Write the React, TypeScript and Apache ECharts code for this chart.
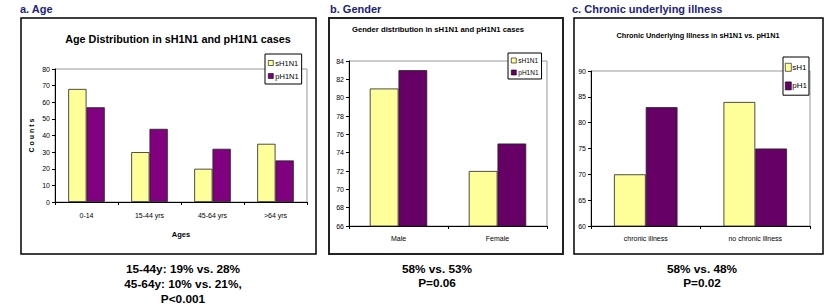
import React, { useEffect, useRef } from "react";
import * as echarts from "echarts";

const ageCategories = ["0-14", "15-44 yrs", "45-64 yrs", ">64 yrs"];
const ageS = [68, 30, 20, 35];
const ageP = [57, 44, 32, 25];
const ageTicks = { min: 0, max: 80, interval: 10 };

const genderCategories = ["Male", "Female"];
const genderS = [81, 72];
const genderP = [83, 75];
const genderTicks = { min: 66, max: 84, interval: 2 };

const chronicCategories = ["chronic illness", "no chronic illness"];
const chronicS = [70, 84];
const chronicP = [83, 75];
const chronicTicks = { min: 60, max: 90, interval: 5 };

const YELLOW = "#FFFF99";
const PURPLE_A = "#800080";
const PURPLE_B = "#660066";
const NAVY = "#1C2478";
const ARIAL = "'Liberation Sans', Arial, sans-serif";
const NARROW = "'Liberation Sans Narrow', 'Liberation Sans', Arial, sans-serif";

export default function App() {
  const ref = useRef<HTMLDivElement>(null);
  useEffect(() => {
    const chart = echarts.init(ref.current!, null, { renderer: "svg" });

    const grids = [
      { left: 55, top: 69, width: 252, height: 133 },
      { left: 349, top: 61, width: 198, height: 165 },
      { left: 591, top: 71, width: 219, height: 155 },
    ].map((g) => ({ ...g, show: true, borderColor: "#999", borderWidth: 1, containLabel: false }));

    const fonts = [ARIAL, ARIAL, NARROW];
    const cats = [ageCategories, genderCategories, chronicCategories];
    const ticks = [ageTicks, genderTicks, chronicTicks];

    const xAxis = cats.map((c, i) => ({
      type: "category",
      gridIndex: i,
      data: c,
      axisLine: { lineStyle: { color: "#000", width: 1 } },
      axisTick: { show: true, length: 3, lineStyle: { color: "#000" } },
      axisLabel: { fontSize: 7, color: "#000", fontFamily: fonts[i], margin: i === 0 ? 10 : 9 },
      name: i === 0 ? "Ages" : "",
      nameLocation: "middle",
      nameGap: 28,
      nameTextStyle: { fontSize: 7.5, fontWeight: "bold", color: "#000", fontFamily: ARIAL },
    }));

    const yAxis = ticks.map((t, i) => ({
      type: "value",
      gridIndex: i,
      min: t.min,
      max: t.max,
      interval: t.interval,
      axisLine: { show: true, lineStyle: { color: "#000", width: 1 } },
      axisTick: { show: true, length: 3, lineStyle: { color: "#000" } },
      splitLine: { show: false },
      axisLabel: { fontSize: 7, color: "#000", fontFamily: fonts[i], margin: 5 },
      name: i === 0 ? "C o u n t s" : "",
      nameLocation: "middle",
      nameGap: 20,
      nameRotate: 90,
      nameTextStyle: { fontSize: 7, fontWeight: "bold", color: "#000", fontFamily: ARIAL },
    }));

    const barBase = {
      type: "bar",
      barGap: "0%",
      barCategoryGap: "42%",
      itemStyle: { borderColor: "#222", borderWidth: 0.8 },
    };

    const series = [
      { ...barBase, name: "sH1N1", xAxisIndex: 0, yAxisIndex: 0, data: ageS, itemStyle: { ...barBase.itemStyle, color: YELLOW } },
      { ...barBase, name: "pH1N1", xAxisIndex: 0, yAxisIndex: 0, data: ageP, itemStyle: { ...barBase.itemStyle, color: PURPLE_A } },
      { ...barBase, name: "sH1N1", xAxisIndex: 1, yAxisIndex: 1, data: genderS, itemStyle: { ...barBase.itemStyle, color: YELLOW } },
      { ...barBase, name: "pH1N1", xAxisIndex: 1, yAxisIndex: 1, data: genderP, itemStyle: { ...barBase.itemStyle, color: PURPLE_B } },
      { ...barBase, name: "sH1", xAxisIndex: 2, yAxisIndex: 2, data: chronicS, itemStyle: { ...barBase.itemStyle, color: YELLOW } },
      { ...barBase, name: "pH1", xAxisIndex: 2, yAxisIndex: 2, data: chronicP, itemStyle: { ...barBase.itemStyle, color: PURPLE_B } },
    ];

    const legendBase = {
      orient: "vertical",
      backgroundColor: "#fff",
      borderColor: "#000",
      borderWidth: 1,
      borderRadius: 0,
      icon: "rect",
      itemWidth: 5,
      itemHeight: 5,
      itemGap: 5,
      selectedMode: false,
      itemStyle: { borderColor: "#000", borderWidth: 0.6 },
    };

    const legend = [
      {
        ...legendBase,
        left: 265,
        top: 54,
        padding: [5, 3, 4, 3],
        textStyle: { fontSize: 7.5, color: "#000", fontFamily: ARIAL, padding: [0, 0, 0, -3] },
        data: [
          { name: "sH1N1", itemStyle: { color: YELLOW } },
          { name: "pH1N1", itemStyle: { color: PURPLE_A } },
        ],
      },
      {
        ...legendBase,
        left: 508,
        top: 53,
        padding: [4, 3, 3, 3],
        textStyle: { fontSize: 6.5, color: "#000", fontFamily: ARIAL, padding: [0, 0, 0, -3] },
        data: [
          { name: "sH1N1", itemStyle: { color: YELLOW } },
          { name: "pH1N1", itemStyle: { color: PURPLE_B } },
        ],
      },
      {
        ...legendBase,
        left: 783,
        top: 57,
        padding: [6, 2, 5, 2],
        itemWidth: 6,
        itemHeight: 8,
        itemGap: 10,
        textStyle: { fontSize: 8, color: "#000", fontFamily: NARROW, padding: [0, 0, 0, -4] },
        data: [
          { name: "sH1", itemStyle: { color: YELLOW } },
          { name: "pH1", itemStyle: { color: PURPLE_B } },
        ],
      },
    ];

    const txt = (text: string, x: number, y: number, size: number, opts: any = {}) => ({
      type: "text",
      x,
      y,
      silent: true,
      style: {
        text,
        fontSize: size,
        fontWeight: "bold",
        fontFamily: opts.family || ARIAL,
        fill: opts.color || "#000",
        textAlign: opts.align || "center",
        textVerticalAlign: "middle",
      },
    });

    const box = (x: number, y: number, w: number, h: number, lw: number, color = "#000") => ({
      type: "rect",
      silent: true,
      z: -1,
      shape: { x, y, width: w, height: h },
      style: { fill: "#fff", stroke: color, lineWidth: lw },
    });

    const graphic = [
      box(21, 18, 295, 236, 1.5),
      box(329, 18, 234, 236, 2, "#222"),
      box(574, 18, 249, 236, 1.5),
      txt("a. Age", 20, 9, 11, { align: "left", color: NAVY }),
      txt("b. Gender", 330, 9, 11, { align: "left", color: NAVY }),
      txt("c. Chronic underlying illness", 572, 9, 11, { align: "left", color: NAVY }),
      txt("Age Distribution in sH1N1 and pH1N1 cases", 178, 39, 10.8),
      txt("Gender distribution in sH1N1 and pH1N1 cases", 438, 29, 7.7),
      txt("Chronic Underlying Illness in sH1N1 vs. pH1N1", 698, 35, 7.3, { family: NARROW }),
      txt("15-44y: 19% vs. 28%", 183, 269, 11.8),
      txt("45-64y: 10% vs. 21%,", 183, 284, 11.8),
      txt("P<0.001", 183, 299, 11.8),
      txt("58% vs. 53%", 437, 269, 11.8),
      txt("P=0.06", 437, 283, 11.8),
      txt("58% vs. 48%", 702, 269, 11.8),
      txt("P=0.02", 702, 283, 11.8),
    ];

    chart.setOption({
      animation: false,
      backgroundColor: "#fff",
      grid: grids,
      xAxis,
      yAxis,
      series,
      legend,
      graphic: { elements: graphic },
    } as any);

    return () => chart.dispose();
  }, []);

  return (
    <div
      ref={ref}
      style={{ position: "fixed", left: 0, top: 0, width: 827, height: 306, background: "#fff" }}
    />
  );
}
